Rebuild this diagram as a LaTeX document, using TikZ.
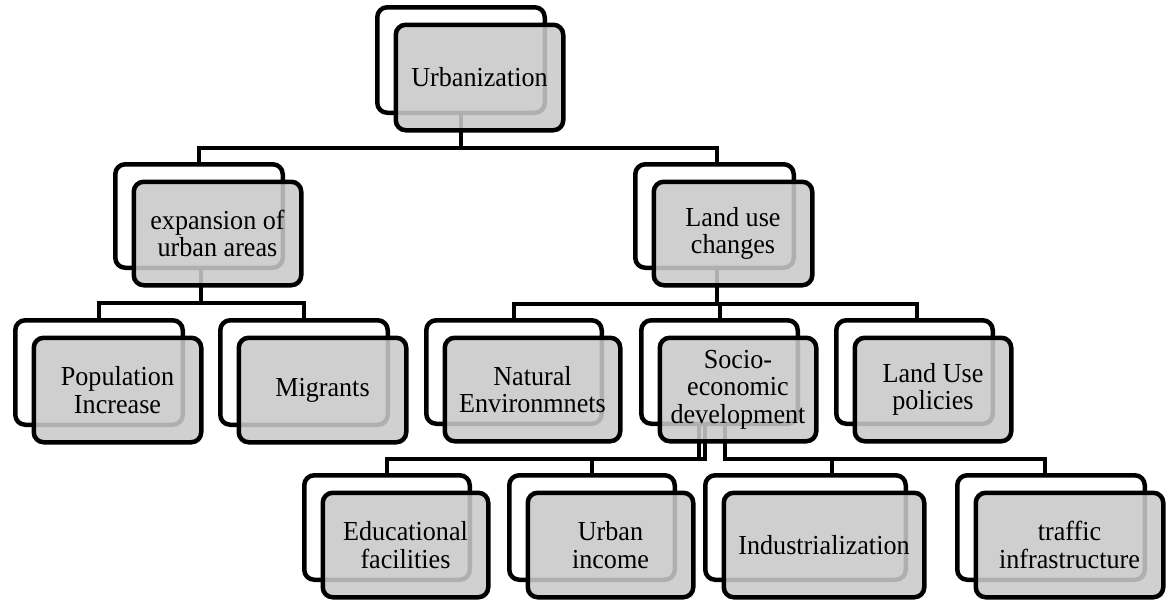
\documentclass[tikz,border=0pt]{standalone}
\usepackage{fontspec}
\setmainfont{Liberation Serif}[FakeStretch=0.95]
\begin{document}
\begin{tikzpicture}[x=1pt,y=-1pt,
  backbox/.style={draw=black, line width=4.5pt, rounded corners=10pt, fill=white, inner sep=0pt, outer sep=0pt},
  frontbox/.style={draw=black, line width=4.5pt, rounded corners=10pt, fill=black!21, fill opacity=0.875, text opacity=1, inner sep=0pt, outer sep=0pt, align=center, font=\fontsize{27.5}{27.5}\selectfont},
  conn/.style={draw=black, line width=4pt}]
\useasboundingbox (0,0) rectangle (1171,600);

% back boxes
\node[backbox, minimum width=167.5pt, minimum height=105.5pt] (urbB) at (461,60) {};
\node[backbox, minimum width=167.5pt, minimum height=103.5pt] (expB) at (199,216) {};
\node[backbox, minimum width=158.5pt, minimum height=103.5pt] (landB) at (714.5,216) {};
\node[backbox, minimum width=167.5pt, minimum height=104.5pt] (popB) at (99,372.5) {};
\node[backbox, minimum width=167.5pt, minimum height=104.5pt] (migB) at (304,372.5) {};
\node[backbox, minimum width=175.5pt, minimum height=103.5pt] (natB) at (514,372) {};
\node[backbox, minimum width=156.5pt, minimum height=103.5pt] (socB) at (719.5,372) {};
\node[backbox, minimum width=156.5pt, minimum height=103.5pt] (lupB) at (914.5,372) {};
\node[backbox, minimum width=165.5pt, minimum height=104.5pt] (eduB) at (387,527.5) {};
\node[backbox, minimum width=165.5pt, minimum height=104.5pt] (incB) at (592,527.5) {};
\node[backbox, minimum width=200.5pt, minimum height=104.5pt] (indB) at (805.5,527.5) {};
\node[backbox, minimum width=187.5pt, minimum height=104.5pt] (traB) at (1051,527.5) {};

% connectors
\coordinate (bus1) at (0,148);
\draw[conn] (urbB.south) -- (urbB.south |- bus1);
\draw[conn] (expB.north) |- ([xshift=2pt]bus1 -| landB.north) -- ([xshift=2pt]landB.north);

\coordinate (bus2) at (0,303);
\draw[conn] ([xshift=2pt]expB.south) -- ([xshift=2pt]expB.south |- bus2);
\draw[conn] (popB.north) |- (bus2 -| migB.north) -- (migB.north);

\coordinate (bus3) at (0,304);
\draw[conn] ([xshift=2pt]landB.south) -- ([xshift=2pt]landB.south |- bus3);
\draw[conn] (natB.north) |- ([xshift=2.5pt]bus3 -| lupB.north) -- ([xshift=2.5pt]lupB.north);
\draw[conn] (socB.north) -- (socB.north |- bus3);

\coordinate (bus4) at (0,459);
\draw[conn] (eduB.north) |- ([xshift=-14.5pt]socB.south |- bus4) -- ([xshift=-14.5pt]socB.south);
\draw[conn] ([xshift=-20.5pt]socB.south) -- ([xshift=-20.5pt]socB.south |- bus4);
\draw[conn] (incB.north) -- (incB.north |- bus4);
\draw[conn] ([xshift=5.5pt]socB.south) |- ([xshift=-6pt]traB.north |- bus4) -- ([xshift=-6pt]traB.north);
\draw[conn] ([xshift=26.5pt]indB.north) -- ([xshift=26.5pt]indB.north |- bus4);

% front boxes
\node[frontbox, minimum width=167.5pt, minimum height=105.5pt] (urb) at (461+18.5,60+17.5) {Urbanization};
\node[frontbox, minimum width=167.5pt, minimum height=103.5pt] (exp) at (199+18.5,216+17.5) {expansion of\\urban areas};
\node[frontbox, minimum width=158.5pt, minimum height=103.5pt] (land) at (714.5+18.5,216+17.5) {Land use\\changes};
\node[frontbox, minimum width=167.5pt, minimum height=104.5pt] (pop) at (99+18.5,372.5+17.5) {Population\\Increase};
\node[frontbox, minimum width=167.5pt, minimum height=104.5pt] (mig) at (304+18.5,372.5+17.5) {Migrants};
\node[frontbox, minimum width=175.5pt, minimum height=103.5pt] (nat) at (514+18.5,372+17.5) {Natural\\Environmnets};
\node[frontbox, minimum width=156.5pt, minimum height=103.5pt] (soc) at (719.5+18.5,372+17.5) {Socio-\\economic\\development};
\node[frontbox, minimum width=156.5pt, minimum height=103.5pt] (lup) at (914.5+18.5,372+17.5) {Land Use\\policies};
\node[frontbox, minimum width=165.5pt, minimum height=104.5pt] (edu) at (387+18.5,527.5+17.5) {Educational\\facilities};
\node[frontbox, minimum width=165.5pt, minimum height=104.5pt] (inc) at (592+18.5,527.5+17.5) {Urban\\income};
\node[frontbox, minimum width=200.5pt, minimum height=104.5pt] (ind) at (805.5+18.5,527.5+17.5) {Industrialization};
\node[frontbox, minimum width=187.5pt, minimum height=104.5pt] (tra) at (1051+18.5,527.5+17.5) {traffic\\infrastructure};
\end{tikzpicture}
\end{document}
